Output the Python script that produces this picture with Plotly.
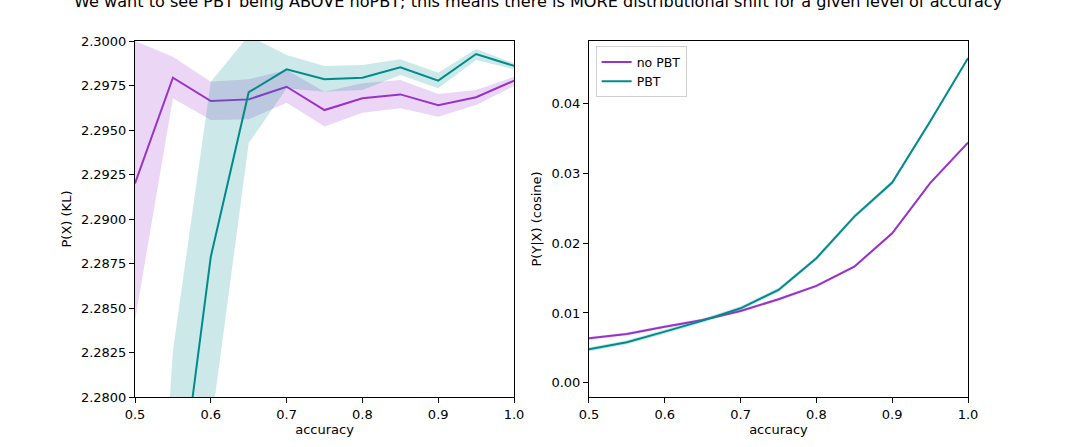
import plotly.graph_objects as go
from plotly.subplots import make_subplots

accuracy = [0.5, 0.55, 0.6, 0.65, 0.7, 0.75, 0.8, 0.85, 0.9, 0.95, 1.0]

# Left panel: P(X) (KL)
kl_nopbt = [2.2920, 2.29794, 2.29663, 2.29672, 2.29743, 2.29612, 2.29678, 2.29700, 2.29639, 2.29684, 2.29777]
kl_nopbt_hi = [2.3000, 2.29912, 2.29771, 2.29785, 2.29837, 2.29715, 2.29762, 2.29781, 2.29702, 2.29725, 2.29799]
kl_nopbt_lo = [2.2843, 2.29678, 2.29556, 2.29560, 2.29653, 2.29519, 2.29597, 2.29622, 2.29575, 2.29640, 2.29747]

kl_pbt = [2.2400, 2.27144, 2.28788, 2.29712, 2.29841, 2.29785, 2.29794, 2.29852, 2.29777, 2.29927, 2.29860]
kl_pbt_hi = [2.2501, 2.28260, 2.29771, 2.30030, 2.29921, 2.29860, 2.29865, 2.29897, 2.29822, 2.29955, 2.29875]
kl_pbt_lo = [2.2300, 2.26000, 2.27824, 2.29425, 2.29734, 2.29715, 2.29725, 2.29809, 2.29734, 2.29893, 2.29841]

# Right panel: P(Y|X) (cosine)
cos_nopbt = [0.00637, 0.00699, 0.00803, 0.00900, 0.01029, 0.01197, 0.01388, 0.01664, 0.02143, 0.02861, 0.03443]
cos_pbt = [0.00479, 0.00580, 0.00732, 0.00890, 0.01067, 0.01330, 0.01785, 0.02382, 0.02870, 0.03745, 0.04654]
cos_nopbt_err = [0.0002, 0.0002, 0.0002, 0.0002, 0.0002, 0.0002, 0.0002, 0.0002, 0.0002, 0.0002, 0.0002]
cos_pbt_err = [0.0003, 0.0003, 0.0003, 0.0003, 0.0003, 0.0003, 0.0003, 0.0003, 0.0003, 0.0003, 0.0003]

PURPLE = "#9932CC"
TEAL = "#008B8B"
PURPLE_FILL = "rgba(153,50,204,0.2)"
TEAL_FILL = "rgba(0,139,139,0.2)"
FONT = "DejaVu Sans"

fig = make_subplots(rows=1, cols=2, horizontal_spacing=0.09)


def band(x, lo, hi, fill, col):
    fig.add_trace(go.Scatter(x=x, y=lo, mode="lines", line=dict(width=0, color=fill),
                             showlegend=False, hoverinfo="skip"), row=1, col=col)
    fig.add_trace(go.Scatter(x=x, y=hi, mode="lines", line=dict(width=0, color=fill),
                             fill="tonexty", fillcolor=fill, showlegend=False,
                             hoverinfo="skip"), row=1, col=col)


# left
band(accuracy, kl_nopbt_lo, kl_nopbt_hi, PURPLE_FILL, 1)
fig.add_trace(go.Scatter(x=accuracy, y=kl_nopbt, mode="lines", line=dict(color=PURPLE, width=2),
                         name="no PBT", showlegend=False), row=1, col=1)
band(accuracy, kl_pbt_lo, kl_pbt_hi, TEAL_FILL, 1)
fig.add_trace(go.Scatter(x=accuracy, y=kl_pbt, mode="lines", line=dict(color=TEAL, width=2),
                         name="PBT", showlegend=False), row=1, col=1)

# right
band(accuracy, [a - e for a, e in zip(cos_nopbt, cos_nopbt_err)],
     [a + e for a, e in zip(cos_nopbt, cos_nopbt_err)], PURPLE_FILL, 2)
fig.add_trace(go.Scatter(x=accuracy, y=cos_nopbt, mode="lines", line=dict(color=PURPLE, width=2),
                         name="no PBT"), row=1, col=2)
band(accuracy, [a - e for a, e in zip(cos_pbt, cos_pbt_err)],
     [a + e for a, e in zip(cos_pbt, cos_pbt_err)], TEAL_FILL, 2)
fig.add_trace(go.Scatter(x=accuracy, y=cos_pbt, mode="lines", line=dict(color=TEAL, width=2),
                         name="PBT"), row=1, col=2)

axis_common = dict(showline=True, linecolor="black", linewidth=1, mirror=True,
                   ticks="outside", ticklen=5, tickwidth=1, tickcolor="black",
                   showgrid=False, zeroline=False,
                   tickfont=dict(family=FONT, size=13, color="black"))

fig.update_xaxes(axis_common)
fig.update_yaxes(axis_common)

fig.update_xaxes(range=[0.5, 1.0], tickvals=[0.5, 0.6, 0.7, 0.8, 0.9, 1.0], tickformat=".1f",
                 domain=[0, 0.455],
                 title=dict(text="accuracy", font=dict(family=FONT, size=13, color="black"), standoff=4),
                 row=1, col=1)
fig.update_xaxes(range=[0.5, 1.0], tickvals=[0.5, 0.6, 0.7, 0.8, 0.9, 1.0], tickformat=".1f",
                 domain=[0.545, 1.0],
                 title=dict(text="accuracy", font=dict(family=FONT, size=13, color="black"), standoff=4),
                 row=1, col=2)
fig.update_yaxes(range=[2.28, 2.30], dtick=0.0025, tickformat=".4f",
                 title=dict(text="P(X) (KL)", font=dict(family=FONT, size=13, color="black"), standoff=6),
                 row=1, col=1)
fig.update_yaxes(range=[-0.00205, 0.0490], tickvals=[0.0, 0.01, 0.02, 0.03, 0.04], tickformat=".2f",
                 title=dict(text="P(Y|X) (cosine)", font=dict(family=FONT, size=13, color="black"), standoff=6),
                 row=1, col=2)

fig.add_annotation(text="We want to see PBT being ABOVE noPBT; this means there is MORE distributional shift for a given level of accuracy",
                   xref="paper", yref="paper", x=0.4838, y=1.1096, xanchor="center", yanchor="middle",
                   showarrow=False, font=dict(family=FONT, size=16.1, color="black"))

fig.update_layout(
    width=1076, height=447,
    margin=dict(l=135, r=108, t=41, b=50),
    paper_bgcolor="white", plot_bgcolor="white",
    font=dict(family=FONT, size=13, color="black"),
    legend=dict(x=0.545 + 0.008, y=0.985, xref="paper", yref="paper", xanchor="left", yanchor="top",
                bgcolor="white", bordercolor="#d0d0d0", borderwidth=1, traceorder="normal",
                itemwidth=30,
                font=dict(family=FONT, size=12.5, color="black"), tracegroupgap=0),
    showlegend=True,
)

fig.write_html("out.html", config={"displayModeBar": False},
               post_script="document.body.style.margin='0px';document.body.style.padding='0px';")
